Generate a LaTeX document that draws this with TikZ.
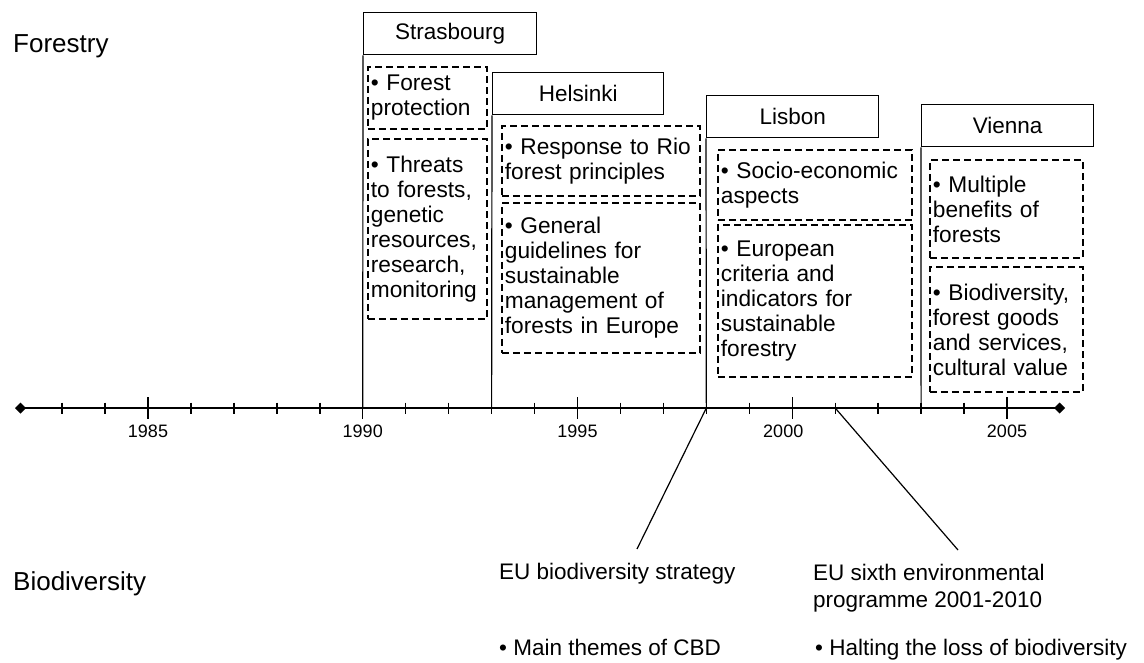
\documentclass[tikz,border=0pt]{standalone}
\usepackage{fontspec}
\setmainfont{Liberation Sans}
\usetikzlibrary{arrows.meta}

\begin{document}
\begin{tikzpicture}[x=1pt, y=-1pt,
        axis/.style ={{Diamond[length=11pt,width=11pt]}-{Diamond[length=11pt,width=11pt]}, line width=2.5pt},
        tck/.style  ={line width=1.4pt},
        vline/.style={line width=1.2pt},
        city/.style ={draw, line width=1.3pt, anchor=north west, inner sep=0pt,
                      minimum height=42, font=\fontsize{22.5}{25}\selectfont},
        theme/.style={draw, dash pattern=on 7pt off 4pt, line width=1.8pt,
                      anchor=north west, align=left, inner sep=3pt,
                      font=\fontsize{22.7}{25}\selectfont},
        yrl/.style  ={font=\fontsize{18}{20}\selectfont, inner sep=0pt, anchor=base},
        side/.style ={font=\fontsize{26}{28}\selectfont, inner sep=0pt, anchor=base west},
        bot/.style  ={font=\fontsize{22.5}{27}\selectfont, inner sep=0pt, align=left},]

    \useasboundingbox (0,0) rectangle (1144,663);

    % time axis
    \coordinate (start) at (15,408);
    \coordinate (end)   at (1065,408);
    \draw[axis] (start) -- (end);
    \foreach \yr in {1983,...,2005} {
        \coordinate (t\yr) at ({148+(\yr-1985)*42.95},408);
        \draw[tck] (t\yr) ++(0,-5.5) -- ++(0,11);
    }
    \foreach \yr/\dx in {1985/0,1990/0,1995/0,2000/-9,2005/0} {
        \draw[tck] (t\yr) ++(0,-11) -- ++(0,22);
        \path (t\yr) ++(\dx,29) node[yrl] (l\yr) {\yr};
    }

    \node[side] (forestry) at (13,53)  {Forestry};
    \node[side] (biodiv)   at (13,590) {Biodiversity};

    % conferences
    \node[city, minimum width=173] (strasbourg) at (363,12)  {Strasbourg};
    \node[city, minimum width=171] (helsinki)   at (492,72)  {Helsinki};
    \node[city, minimum width=172] (lisbon)     at (706,95)  {Lisbon};
    \node[city, minimum width=172] (vienna)     at (921,104) {Vienna};

    \draw[vline] (strasbourg.south west) -- (t1990);
    \draw[vline] (helsinki.south west)   -- (t1993);
    \draw[vline] (lisbon.south west)     -- (t1998);
    \draw[vline] (vienna.south west)     -- (t2003);

    \node[theme, text width=113, minimum height=62] (protect) at (367,66)
        {\textbullet\ Forest\\protection};
    \node[theme, text width=113, minimum height=180] (threats) at (367,138)
        {\textbullet\ Threats\\to forests,\\genetic\\resources,\\research,\\monitoring};
    \node[theme, text width=192, minimum height=70] (rio) at (501,125)
        {\textbullet\ Response to Rio\\forest principles};
    \node[theme, text width=192, minimum height=150] (guide) at (501,202)
        {\textbullet\ General\\guidelines for\\sustainable\\management of\\forests in Europe};
    \node[theme, text width=188, minimum height=70] (socio) at (717,149)
        {\textbullet\ Socio-economic\\aspects};
    \node[theme, text width=188, minimum height=152] (criteria) at (717,224)
        {\textbullet\ European\\criteria and\\indicators for\\sustainable\\forestry};
    \node[theme, text width=147, minimum height=98] (benefit) at (929,159)
        {\textbullet\ Multiple\\benefits of\\forests};
    \node[theme, text width=147, minimum height=125] (goods) at (929,266)
        {\textbullet\ Biodiversity,\\forest goods\\and services,\\cultural value};

    % biodiversity policy
    \node[bot, anchor=base west] (strategy) at (499,579) {EU biodiversity strategy};
    \node[bot, anchor=base west] (cbd)      at (499,655) {\textbullet\ Main themes of CBD};
    \node[bot, anchor=base west] (sixth)    at (813,580) {EU sixth environmental};
    \node[bot, anchor=base west] (period)   at (813,607) {programme 2001-2010};
    \node[bot, anchor=base west] (halting)  at (815,655)
        {\textbullet\ Halting the loss of biodiversity};

    \coordinate (strategytop) at (637,549);
    \coordinate (sixthtop)    at (958,550);
    \draw[vline] (t1998) -- (strategytop);
    \draw[vline] (t2001) -- (sixthtop);
\end{tikzpicture}
\end{document}
